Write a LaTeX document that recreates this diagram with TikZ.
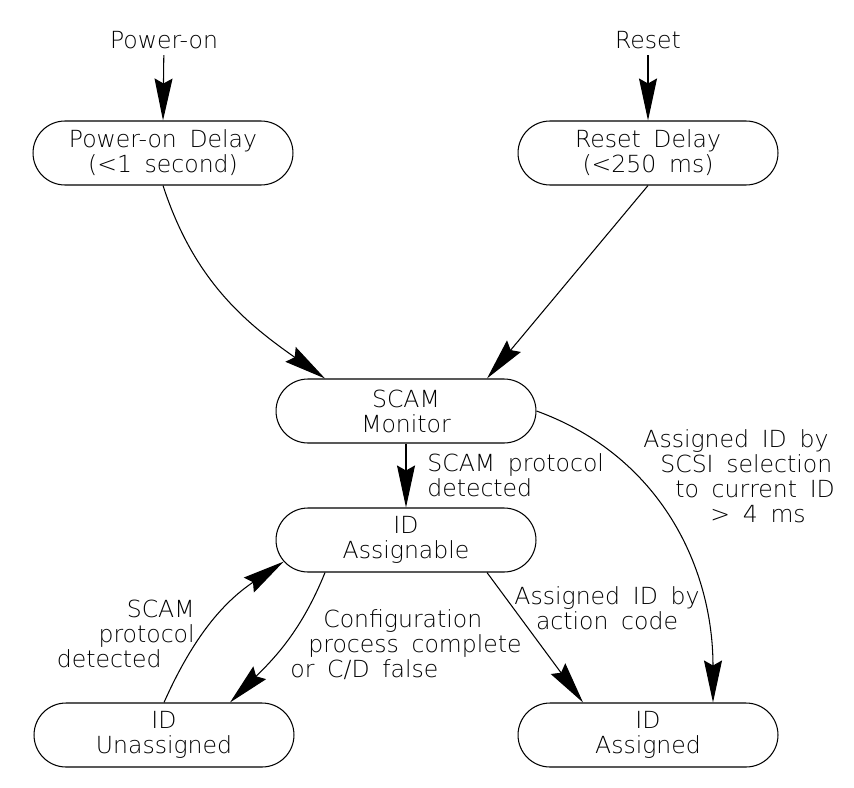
\documentclass[tikz,border=0pt]{standalone}
\usepackage{fontspec}
\setmainfont{DejaVu Sans ExtraLight}[WordSpace=1.7]
\usepackage{tikz}
\usetikzlibrary{shapes.misc, arrows.meta}

\begin{document}
\begin{tikzpicture}[x=0.02cm, y=-0.02cm, line width=0.6pt,
        every node/.style={font=\fontsize{13.4}{14.2}\selectfont},
        stbox/.style={rounded rectangle, draw, minimum width=5.2cm, minimum height=1.28cm, inner sep=0pt, align=center},
        >={Stealth[length=0.84cm, width=0.36cm, inset=0.1cm]}]
        \useasboundingbox (0, 0) rectangle (854, 787);

        % states
        \node (pon) at (164, 40) {Power-on};
        \node (rst) at (648, 40) {Reset};
        \node[stbox] (pond) at (163, 153) {Power-on Delay\\(<1 second)};
        \node[stbox] (rstd) at (648, 153) {Reset Delay\\(<250 ms)};
        \node[stbox] (scam) at (406, 411) {SCAM\\Monitor};
        \node[stbox] (asgn) at (406, 540) {ID\\Assignable};
        \node[stbox] (unas) at (164, 735) {ID\\Unassigned};
        \node[stbox] (asd) at (648, 735) {ID\\Assigned};

        % transition labels
        \node[anchor=west, align=left] (ldet) at (421, 475) {SCAM protocol\\detected};
        \node[anchor=west, align=left] (lsel) at (637, 476)
            {Assigned ID by\\\hspace*{0.34cm}SCSI selection\\\hspace*{0.64cm}to current ID\\\hspace*{1.34cm}> 4 ms};
        \node[align=center] (lact) at (607, 608) {Assigned ID by\\action code};
        \node[anchor=west, align=left] (lcfg) at (284, 645)
            {\hspace*{0.66cm}Configuration\\\hspace*{0.36cm}process complete\\or C/D false};
        \node[anchor=east, align=right] (lback) at (201, 634)
            {SCAM\\protocol\hspace*{0.3cm}\\detected\hspace*{0.66cm}};

        \draw[->] (pon) -- (pond.north);
        \draw[->] (rst) -- (rstd.north);
        \draw[->] (pond.south) to[out=-72, in=145] ([xshift=-1.62cm]scam.north);
        \draw[->] (rstd.south) -- ([xshift=1.62cm]scam.north);
        \draw[->] (scam.south) -- (asgn.north);
        \draw[->] (scam.east) to[out=-20, in=90] ([xshift=1.3cm]asd.north);
        \draw[->] ([xshift=-1.62cm]asgn.south) to[out=-112, in=45] ([xshift=1.32cm]unas.north);
        \draw[->] (unas.north) to[out=66, in=-146] (asgn.190);
        \draw[->] ([xshift=1.62cm]asgn.south) -- ([xshift=-1.3cm]asd.north);
\end{tikzpicture}
\end{document}
